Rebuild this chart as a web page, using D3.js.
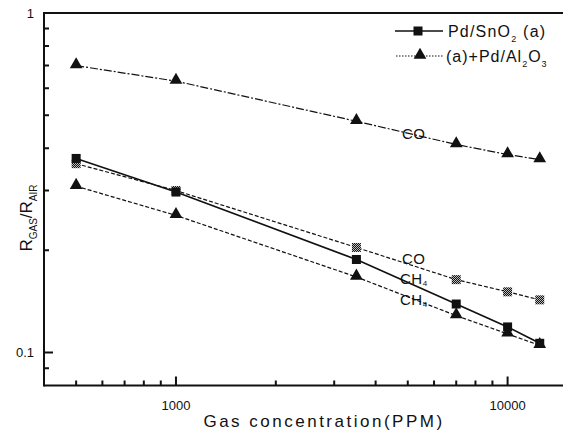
<!DOCTYPE html>
<html>
<head>
<meta charset="utf-8">
<script src="https://cdn.jsdelivr.net/npm/d3@7"></script>
<style>
  body { margin: 0; background: #fff; }
  svg text { font-family: "Liberation Sans", Arial, sans-serif; fill: #111; }
</style>
</head>
<body>
<div id="chart"></div>
<script>
// gas concentration (ppm)
const concentrations = [500, 1000, 3500, 7000, 10000, 12500];
// R_gas / R_air
const coAl2O3 = [0.70, 0.63, 0.48, 0.41, 0.383, 0.37];
const coSnO2 = [0.36, 0.30, 0.204, 0.164, 0.151, 0.143];
const ch4SnO2 = [0.373, 0.297, 0.188, 0.139, 0.119, 0.1065];
const ch4Al2O3 = [0.309, 0.2535, 0.167, 0.1285, 0.1135, 0.105];

const xMajor = [1000, 10000];
const xMinor = [500, 600, 700, 800, 900, 2000, 3000, 4000, 5000, 6000, 7000, 8000, 9000];
const yMajor = [0.1, 1];
const yMinor = [0.09, 0.2, 0.3, 0.4, 0.5, 0.6, 0.7, 0.8, 0.9];

const width = 563, height = 438;
const plot = {left: 44, top: 13, bottom: 385.5, right: 566};

const svg = d3.select('#chart').append('svg')
    .attr('width', width)
    .attr('height', height);

// checkered fill for the hatched squares
svg.append('defs').append('pattern')
    .attr('id', 'checker')
    .attr('width', 2).attr('height', 2)
    .attr('patternUnits', 'userSpaceOnUse')
    .call(p => {
        p.append('rect').attr('width', 2).attr('height', 2).attr('fill', '#111');
        p.append('rect').attr('width', 1).attr('height', 1).attr('fill', '#bbb');
        p.append('rect').attr('x', 1).attr('y', 1).attr('width', 1).attr('height', 1).attr('fill', '#bbb');
    });

const x = d3.scaleLog().domain([400, 15000]).range([plot.left, plot.right]);
const y = d3.scaleLog().domain([0.08, 1]).range([plot.bottom, plot.top]);

// frame
svg.append('line').attr('x1', plot.left).attr('x2', plot.left).attr('y1', plot.top - 1).attr('y2', plot.bottom + 1)
    .attr('stroke', '#111').attr('stroke-width', 2);
svg.append('line').attr('x1', plot.left).attr('x2', width).attr('y1', plot.bottom).attr('y2', plot.bottom)
    .attr('stroke', '#111').attr('stroke-width', 2);
svg.append('line').attr('x1', plot.left).attr('x2', width).attr('y1', plot.top).attr('y2', plot.top)
    .attr('stroke', '#111').attr('stroke-width', 2);

// ticks, pointing inward
const tickPath = d3.path();
xMajor.forEach(d => { tickPath.moveTo(x(d), plot.bottom); tickPath.lineTo(x(d), plot.bottom - 9); });
xMinor.forEach(d => { tickPath.moveTo(x(d), plot.bottom); tickPath.lineTo(x(d), plot.bottom - 5); });
yMajor.forEach(d => { tickPath.moveTo(plot.left, y(d)); tickPath.lineTo(plot.left + 9, y(d)); });
yMinor.forEach(d => { tickPath.moveTo(plot.left, y(d)); tickPath.lineTo(plot.left + 5, y(d)); });
svg.append('path')
    .attr('class', 'ticks')
    .attr('d', tickPath.toString())
    .attr('fill', 'none')
    .attr('stroke', '#111')
    .attr('stroke-width', 2);

svg.selectAll('.xlabel').data(xMajor).enter().append('text')
    .attr('x', d => x(d))
    .attr('y', plot.bottom + 24)
    .attr('text-anchor', 'middle')
    .style('font-size', '13px')
    .text(d => d);

svg.selectAll('.ylabel').data(yMajor).enter().append('text')
    .attr('x', plot.left - 10)
    .attr('y', d => y(d))
    .attr('text-anchor', 'end')
    .attr('dominant-baseline', 'central')
    .style('font-size', '13px')
    .text(d => d);

// series
const series = [
    {name: 'coAl2O3', values: coAl2O3, dash: '8,2,2,2', marker: 'triangle', fill: '#111'},
    {name: 'coSnO2', values: coSnO2, dash: '4,2', marker: 'square', fill: 'url(#checker)'},
    {name: 'ch4SnO2', values: ch4SnO2, dash: null, marker: 'square', fill: '#111'},
    {name: 'ch4Al2O3', values: ch4Al2O3, dash: '4,2', marker: 'triangle', fill: '#111'}
];

const line = d3.line().x(d => x(d[0])).y(d => y(d[1]));
const triangle = d3.symbol().type(d3.symbolTriangle).size(70);

function drawMarker(g, type, fill, cx, cy, s) {
    if (type === 'square') {
        g.append('rect')
            .attr('x', cx - s / 2).attr('y', cy - s / 2)
            .attr('width', s).attr('height', s)
            .attr('fill', fill);
    } else {
        g.append('path')
            .attr('d', triangle())
            .attr('transform', 'translate(' + cx + ',' + (cy - 1) + ')')
            .attr('fill', fill);
    }
}

series.forEach(s => {
    const pts = concentrations.map((c, i) => [c, s.values[i]]);
    svg.append('path')
        .datum(pts)
        .attr('d', line)
        .attr('fill', 'none')
        .attr('stroke', '#111')
        .attr('stroke-width', s.dash ? 1.2 : 1.7)
        .attr('stroke-dasharray', s.dash);
    const g = svg.append('g').attr('class', 'markers_' + s.name);
    pts.forEach(p => drawMarker(g, s.marker, s.fill, x(p[0]), y(p[1]), 9));
});

// curve annotations
function label(tx, ty, main, sub) {
    const t = svg.append('text').attr('x', tx).attr('y', ty)
        .attr('dominant-baseline', 'central')
        .style('font-size', '15px').style('letter-spacing', '0.5px');
    t.append('tspan').text(main);
    if (sub) t.append('tspan').attr('dy', 5).style('font-size', '8px').text(sub);
}
label(402, 133, 'CO');
label(402, 258, 'CO');
label(400, 278, 'CH', '4');
label(400, 299, 'CH', '4');

// legend
const legend = svg.append('g');
legend.append('line').attr('x1', 395).attr('x2', 443).attr('y1', 31).attr('y2', 31)
    .attr('stroke', '#111').attr('stroke-width', 1.4);
drawMarker(legend, 'square', '#111', 418, 31, 9);
legend.append('line').attr('x1', 396).attr('x2', 443).attr('y1', 56).attr('y2', 56)
    .attr('stroke', '#111').attr('stroke-width', 1.1).attr('stroke-dasharray', '1.5,1.5');
drawMarker(legend, 'triangle', '#111', 420, 56, 9);

const l1 = legend.append('text').attr('x', 448).attr('y', 37)
    .style('font-size', '16px').style('letter-spacing', '1.2px');
l1.append('tspan').text('Pd/SnO');
l1.append('tspan').attr('dy', 5).style('font-size', '9px').text('2');
l1.append('tspan').attr('dy', -5).text(' (a)');

const l2 = legend.append('text').attr('x', 446).attr('y', 62)
    .style('font-size', '16px').style('letter-spacing', '1px');
l2.append('tspan').text('(a)+Pd/Al');
l2.append('tspan').attr('dy', 5).style('font-size', '9px').text('2');
l2.append('tspan').attr('dy', -5).text('O');
l2.append('tspan').attr('dy', 5).style('font-size', '9px').text('3');

// axis titles
svg.append('text')
    .attr('x', 324)
    .attr('y', 427)
    .attr('text-anchor', 'middle')
    .style('font-size', '17px')
    .style('letter-spacing', '2.5px')
    .text('Gas concentration(PPM)');

const yt = svg.append('text')
    .attr('transform', 'translate(32,218) rotate(-90)')
    .attr('text-anchor', 'middle')
    .style('font-size', '17px');
yt.append('tspan').text('R');
yt.append('tspan').attr('dy', 5).style('font-size', '10px').text('GAS');
yt.append('tspan').attr('dy', -5).text('/R');
yt.append('tspan').attr('dy', 5).style('font-size', '10px').text('AIR');
</script>
</body>
</html>
